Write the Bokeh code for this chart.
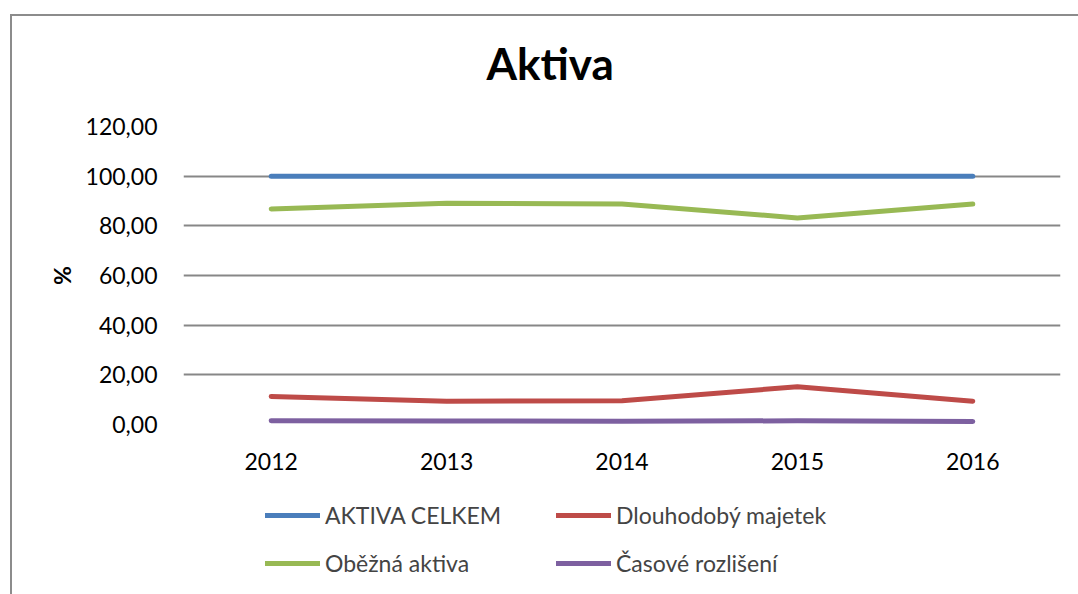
from bokeh.plotting import figure
from bokeh.layouts import column
from bokeh.models import FactorRange, Range1d, FixedTicker, Legend, LegendItem, Title
from bokeh.embed import file_html
from bokeh.resources import INLINE

years = ["2012", "2013", "2014", "2015", "2016"]
aktiva_celkem = [100.0, 100.0, 100.0, 100.0, 100.0]
dlouhodoby = [11.3, 9.4, 9.6, 15.2, 9.4]
obezna = [86.8, 89.1, 88.8, 83.2, 88.8]
casove = [1.5, 1.4, 1.3, 1.5, 1.2]
y_ticks = [0, 20, 40, 60, 80, 100, 120]
y_tick_labels = ["0,00", "20,00", "40,00", "60,00", "80,00", "100,00", "120,00"]

series = [
    ("AKTIVA CELKEM", aktiva_celkem, "#4a7ebb"),
    ("Dlouhodobý majetek", dlouhodoby, "#be4b48"),
    ("Oběžná aktiva", obezna, "#98b954"),
    ("Časové rozlišení", casove, "#7d60a0"),
]
legend_order = ["AKTIVA CELKEM", "Oběžná aktiva", "Dlouhodobý majetek", "Časové rozlišení"]

FONT = "Lato"

# ---- main chart ----
p = figure(
    x_range=FactorRange(*years, range_padding=0),
    y_range=Range1d(y_ticks[0], y_ticks[-1]),
    frame_width=877, frame_height=298,
    min_border_left=183, min_border_top=126, min_border_right=18, min_border_bottom=56,
    output_backend="svg", toolbar_location=None,
)
p.border_fill_color = None
p.background_fill_color = "white"
p.outline_line_color = None

for name, vals, color in series:
    p.line(years, vals, line_color=color, line_width=5, line_cap="round", line_join="round")

t = Title(text="Aktiva", text_font=FONT, text_font_size="44px", text_font_style="bold",
          text_color="#000000", align="left", offset=303, vertical_align="top", standoff=71)
p.add_layout(t, "above")

p.yaxis.ticker = FixedTicker(ticks=y_ticks)
p.yaxis.major_label_overrides = {t_: l for t_, l in zip(y_ticks, y_tick_labels)}
p.yaxis.axis_label = "%"
p.yaxis.axis_label_text_font = FONT
p.yaxis.axis_label_text_font_style = "bold"
p.yaxis.axis_label_text_font_size = "23px"
p.yaxis.axis_label_text_color = "#000000"
p.yaxis.axis_label_standoff = 7
for ax in (p.xaxis, p.yaxis):
    ax.axis_line_color = None
    ax.major_tick_line_color = None
    ax.minor_tick_line_color = None
    ax.major_tick_out = 0
    ax.major_tick_in = 0
    ax.major_label_text_font = FONT
    ax.major_label_text_font_size = "23px"
    ax.major_label_text_color = "#000000"
p.yaxis.major_label_standoff = 26
p.xaxis.major_label_standoff = 28

p.xgrid.grid_line_color = None
p.ygrid.grid_line_color = "#878787"
p.ygrid.grid_line_width = 2

# ---- legend strip below the chart ----
lg = figure(
    x_range=FactorRange(*years, range_padding=0),
    y_range=Range1d(1000, 1001),
    frame_width=1078, frame_height=114,
    min_border_left=0, min_border_top=0, min_border_right=0, min_border_bottom=0,
    x_axis_type=None, y_axis_type=None,
    output_backend="svg", toolbar_location=None,
)
lg.border_fill_color = None
lg.background_fill_color = None
lg.outline_line_color = None
lg.grid.visible = False

lg_renderers = {}
for name, vals, color in series:
    lg_renderers[name] = lg.line(years, vals, line_color=color, line_width=5,
                                 line_cap="round", line_join="round")

legend = Legend(items=[LegendItem(label=n, renderers=[lg_renderers[n]]) for n in legend_order],
                location=(265, 17), orientation="vertical", ncols=2,
                glyph_width=55, glyph_height=20, label_height=20, label_width=211,
                spacing=20, padding=0, margin=0, label_standoff=5,
                label_text_font=FONT, label_text_font_size="23px",
                background_fill_alpha=0, border_line_color=None)
lg.add_layout(legend, "center")

layout = column(p, lg, spacing=0)
layout.styles = {
    "background": "linear-gradient(#8c8c8c, #8c8c8c) 10px 14px / 100% 2px no-repeat, "
                  "linear-gradient(#8c8c8c, #8c8c8c) 10px 14px / 2px 100% no-repeat",
}

open("out.html", "w").write(file_html(layout, INLINE))
